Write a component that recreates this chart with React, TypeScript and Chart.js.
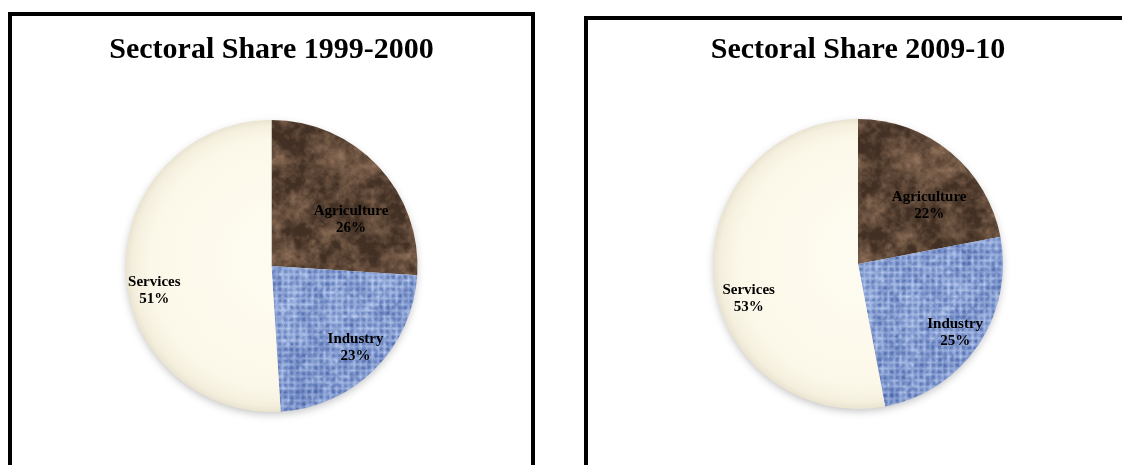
import React, { useEffect, useRef } from "react";
import { Chart, registerables } from "chart.js";

Chart.register(...registerables);

// ---------------- data ----------------
const categories = ["Agriculture", "Industry", "Services"];
const share1999 = [26, 23, 51];
const share2009 = [22, 25, 53];
const title1999 = "Sectoral Share 1999-2000";
const title2009 = "Sectoral Share 2009-10";

// ---------------- textures ----------------
function hash(x: number, y: number) {
  const s = Math.sin(x * 127.1 + y * 311.7) * 43758.5453;
  return s - Math.floor(s);
}
function vnoise(x: number, y: number) {
  const ix = Math.floor(x), iy = Math.floor(y);
  const fx = x - ix, fy = y - iy;
  const ux = fx * fx * (3 - 2 * fx), uy = fy * fy * (3 - 2 * fy);
  const a = hash(ix, iy), b = hash(ix + 1, iy), c = hash(ix, iy + 1), d = hash(ix + 1, iy + 1);
  return a + (b - a) * ux + (c - a) * uy + (a - b - c + d) * ux * uy;
}
function fbm(x: number, y: number, oct: number) {
  let v = 0, amp = 0.5, f = 1, tot = 0;
  for (let i = 0; i < oct; i++) {
    v += amp * vnoise(x * f, y * f);
    tot += amp;
    amp *= 0.5;
    f *= 2;
  }
  return v / tot;
}
const clamp = (v: number) => Math.max(0, Math.min(1, v));

let brownPat: CanvasPattern | null = null;
let bluePat: CanvasPattern | null = null;

function makeTexture(size: number, fn: (x: number, y: number) => [number, number, number]) {
  const c = document.createElement("canvas");
  c.width = size;
  c.height = size;
  const g = c.getContext("2d")!;
  const img = g.createImageData(size, size);
  for (let y = 0; y < size; y++) {
    for (let x = 0; x < size; x++) {
      const [r, gg, b] = fn(x, y);
      const k = (y * size + x) * 4;
      img.data[k] = r;
      img.data[k + 1] = gg;
      img.data[k + 2] = b;
      img.data[k + 3] = 255;
    }
  }
  g.putImageData(img, 0, 0);
  return g.createPattern(c, "repeat")!;
}

function getBrown() {
  if (!brownPat) {
    brownPat = makeTexture(512, (x, y) => {
      const t = fbm(x / 24, y / 24, 5);
      const t2 = fbm(x / 5 + 50, y / 5 + 20, 3);
      const m = clamp((t - 0.3) * 1.5 + (t2 - 0.5) * 0.8);
      return [66 + m * 84, 48 + m * 70, 36 + m * 58];
    });
  }
  return brownPat;
}
function getBlue() {
  if (!bluePat) {
    bluePat = makeTexture(512, (x, y) => {
      const n = fbm(x / 4, y / 4, 3);
      const n2 = fbm(x / 18 + 30, y / 18, 2);
      const tx = 0.5 + 0.5 * Math.cos((2 * Math.PI * x) / 6);
      const ty = 0.5 + 0.5 * Math.cos((2 * Math.PI * y) / 6);
      const w = Math.max(tx, ty) * 0.7 + 0.3 * tx * ty;
      const v = clamp(0.55 * n + 0.4 * w + 0.25 * (n2 - 0.5));
      return [66 + v * 135, 94 + v * 125, 166 + v * 84];
    });
  }
  return bluePat;
}

// ---------------- chart panel ----------------
type Props = {
  title: string;
  values: number[];
  width: number;
  height: number;
  titlePadTop: number;
  titlePadBottom: number;
  padBottom: number;
  labelFrac: number[];
  labelShift: number[];
};

function PieChart(p: Props) {
  const ref = useRef<HTMLCanvasElement | null>(null);
  useEffect(() => {
    if (!ref.current) return;
    const font = '"Liberation Serif", "Times New Roman", serif';
    const serviceFill = (ctx: any) => {
      const ca = ctx.chart.chartArea;
      if (!ca) return "#fcf8e9";
      const cx = (ca.left + ca.right) / 2;
      const cy = (ca.top + ca.bottom) / 2;
      const r = Math.min(ca.right - ca.left, ca.bottom - ca.top) / 2;
      const g = ctx.chart.ctx.createRadialGradient(cx + r * 0.15, cy - r * 0.1, 0, cx, cy, r);
      g.addColorStop(0, "#fefcf2");
      g.addColorStop(0.85, "#fcf8e9");
      g.addColorStop(0.96, "#f4efdd");
      g.addColorStop(1, "#e9e3d0");
      return g;
    };
    const fillFor = (ctx: any) => {
      if (ctx.dataIndex === 0) return getBrown();
      if (ctx.dataIndex === 1) return getBlue();
      return serviceFill(ctx);
    };
    const shadowPlugin = {
      id: "pieShadow",
      beforeDatasetsDraw(chart: any) {
        const arc = chart.getDatasetMeta(0).data[0];
        if (!arc) return;
        const { x, y, outerRadius } = arc.getProps(["x", "y", "outerRadius"], true);
        const c = chart.ctx;
        c.save();
        c.shadowColor = "rgba(0,0,0,0.25)";
        c.shadowBlur = 8;
        c.shadowOffsetY = 3;
        c.fillStyle = "#ebe6d6";
        c.beginPath();
        c.arc(x, y, outerRadius - 1, 0, Math.PI * 2);
        c.fill();
        c.restore();
      },
    };
    const labelPlugin = {
      id: "pieLabels",
      afterDatasetsDraw(chart: any) {
        const c = chart.ctx;
        const meta = chart.getDatasetMeta(0);
        c.save();
        c.font = `bold 15px ${font}`;
        c.fillStyle = "#000";
        c.textAlign = "center";
        c.textBaseline = "middle";
        meta.data.forEach((arc: any, i: number) => {
          const a = arc.getProps(["startAngle", "endAngle", "x", "y", "outerRadius"], true);
          const mid = (a.startAngle + a.endAngle) / 2 + (p.labelShift[i] * Math.PI) / 180;
          const r = a.outerRadius * p.labelFrac[i];
          const tx = a.x + Math.cos(mid) * r;
          const ty = a.y + Math.sin(mid) * r;
          c.fillText(categories[i], tx, ty - 8.5);
          c.fillText(`${p.values[i]}%`, tx, ty + 8.5);
        });
        c.restore();
      },
    };
    const chart = new Chart(ref.current, {
      type: "pie",
      data: {
        labels: categories,
        datasets: [
          {
            data: p.values,
            backgroundColor: fillFor as any,
            borderWidth: 0,
          },
        ],
      },
      options: {
        responsive: false,
        animation: false,
        layout: { padding: { bottom: p.padBottom } },
        plugins: {
          legend: { display: false },
          tooltip: { enabled: false },
          title: {
            display: true,
            text: p.title,
            color: "#000",
            font: { family: font, size: 30, weight: "bold", lineHeight: 1.2 },
            padding: { top: p.titlePadTop, bottom: p.titlePadBottom },
          },
        },
      },
      plugins: [shadowPlugin, labelPlugin],
    });
    return () => chart.destroy();
  }, []);
  return <canvas ref={ref} width={p.width} height={p.height} style={{ display: "block" }} />;
}

export default function App() {
  const panel: React.CSSProperties = {
    position: "absolute",
    boxSizing: "border-box",
    border: "4px solid #000",
    height: 470,
    background: "#fff",
    overflow: "hidden",
  };
  return (
    <div
      style={{
        position: "fixed",
        left: 0,
        top: 0,
        width: 1122,
        height: 465,
        overflow: "hidden",
        background: "#fff",
      }}
    >
      <div style={{ ...panel, left: 8, top: 12, width: 527 }}>
        <PieChart
          title={title1999}
          values={share1999}
          width={519}
          height={449}
          titlePadTop={16}
          titlePadBottom={52}
          padBottom={53}
          labelFrac={[0.63, 0.8, 0.82]}
          labelShift={[13, -1, -10]}
        />
      </div>
      <div style={{ ...panel, left: 584, top: 16, width: 600 }}>
        <PieChart
          title={title2009}
          values={share2009}
          width={540}
          height={445}
          titlePadTop={12}
          titlePadBottom={51}
          padBottom={56}
          labelFrac={[0.635, 0.82, 0.79]}
          labelShift={[11, 1, -12]}
        />
      </div>
    </div>
  );
}
